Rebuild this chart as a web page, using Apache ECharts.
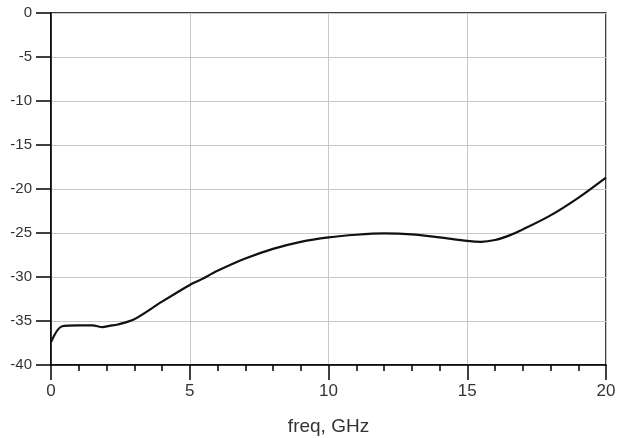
<!DOCTYPE html>
<html><head><meta charset="utf-8">
<script src="https://cdn.jsdelivr.net/npm/echarts@6/dist/echarts.min.js"></script>
<style>html,body{margin:0;padding:0;background:#fff}#c{width:621px;height:438px}</style>
</head><body><div id="c"></div>
<script>
const freq = [0, 0.4, 1, 1.5, 1.85, 2.1, 2.4, 3, 4, 5, 5.4, 6, 7, 8, 9, 10, 11, 12, 13, 14, 15, 15.5, 16, 16.5, 17, 18, 19, 20];
const s21 = [-37.4, -35.6, -35.5, -35.5, -35.7, -35.55, -35.4, -34.8, -32.8, -30.9, -30.3, -29.3, -27.9, -26.8, -26.0, -25.5, -25.2, -25.05, -25.15, -25.5, -25.9, -26.0, -25.8, -25.3, -24.6, -23.0, -21.0, -18.7];
const xTicks = [0, 5, 10, 15, 20];
const yTicks = [0, -5, -10, -15, -20, -25, -30, -35, -40];

const chart = echarts.init(document.getElementById('c'), null, {renderer: 'canvas'});
chart.setOption({
  animation: false,
  backgroundColor: '#fff',
  grid: {left: 51, right: 15, top: 13, bottom: 73, show: true, borderColor: '#000', borderWidth: 1.5, containLabel: false, outerBoundsMode: 'none'},
  xAxis: {
    type: 'value', min: xTicks[0], max: xTicks[xTicks.length - 1], interval: 5,
    name: 'freq, GHz', nameLocation: 'middle', nameGap: 52,
    nameTextStyle: {fontFamily: 'Liberation Sans', fontSize: 19, color: '#333'},
    axisLine: {show: true, onZero: false, lineStyle: {color: '#000', width: 1.5}},
    axisTick: {show: true, inside: false, length: 15, lineStyle: {color: '#000', width: 1.5}},
    minorTick: {show: true, splitNumber: 5, length: 6, lineStyle: {color: '#000', width: 1.5}},
    axisLabel: {fontFamily: 'Liberation Sans', fontSize: 17, color: '#333', margin: 18},
    splitLine: {show: true, lineStyle: {color: '#c8c8c8', width: 1}}
  },
  yAxis: {
    type: 'value', min: yTicks[yTicks.length - 1], max: yTicks[0], interval: 5,
    axisLine: {show: true, onZero: false, lineStyle: {color: '#000', width: 1.5}},
    axisTick: {show: true, inside: false, length: 15, lineStyle: {color: '#000', width: 1.5}},
    axisLabel: {fontFamily: 'Liberation Sans', fontSize: 15, color: '#333', margin: 19},
    splitLine: {show: true, lineStyle: {color: '#c8c8c8', width: 1}}
  },
  series: [{
    type: 'line', smooth: 0.3, showSymbol: false,
    data: freq.map((f, i) => [f, s21[i]]),
    lineStyle: {color: '#111', width: 2.2}
  }]
});
</script></body></html>
